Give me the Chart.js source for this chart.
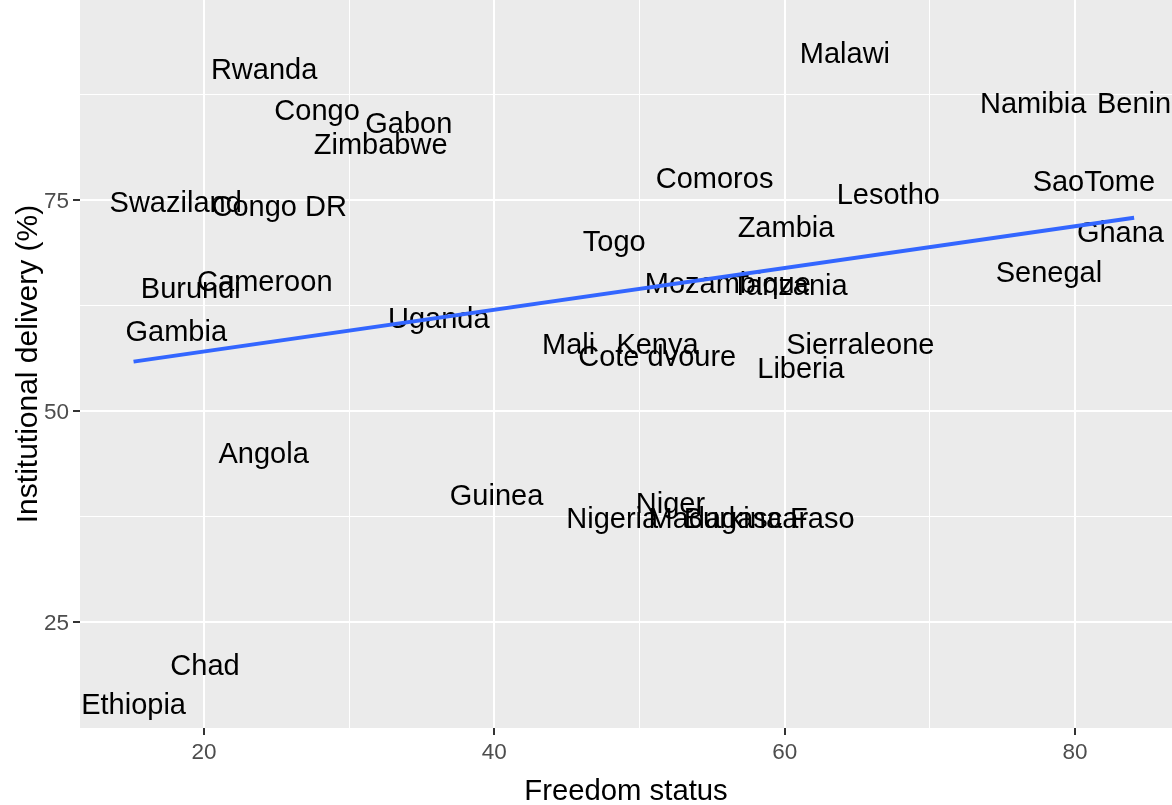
<!DOCTYPE html>
<html>
<head>
<meta charset="utf-8">
<title>Freedom status vs institutional delivery</title>
<script src="https://cdn.jsdelivr.net/npm/chart.js@4.4.1/dist/chart.umd.min.js"></script>
<style>
    html, body { margin: 0; padding: 0; background: #ffffff; }
    #wrap { width: 1172px; height: 805px; position: relative; }
</style>
</head>
<body>
<div id="wrap"><canvas id="scatterChart"></canvas></div>
<script>
// Данные: страны, индекс свободы и доля родов в учреждениях
const countries = ['Rwanda', 'Malawi', 'Congo', 'Gabon', 'Zimbabwe', 'Namibia', 'Benin', 'Comoros',
    'SaoTome', 'Lesotho', 'Swaziland', 'Congo DR', 'Zambia', 'Togo', 'Ghana', 'Senegal',
    'Burundi', 'Cameroon', 'Mozambique', 'Tanzania', 'Gambia', 'Uganda', 'Mali', 'Kenya',
    'Cote dvoure', 'Sierraleone', 'Liberia', 'Angola', 'Guinea', 'Niger', 'Nigeria',
    'Madagascar', 'Burkina Faso', 'Chad', 'Ethiopia'];
const freedom = [24.14, 64.15, 27.79, 34.11, 32.17, 77.12, 84.07, 55.17,
    81.3, 67.14, 18.05, 25.18, 60.09, 48.26, 83.13, 78.2,
    19.09, 24.19, 56.08, 60.34, 18.09, 36.17, 45.12, 51.24,
    51.22, 65.21, 61.11, 24.11, 40.15, 52.13, 48.12,
    56.12, 58.93, 20.07, 15.15];
const delivery = [90.49, 92.38, 85.66, 84.16, 81.6, 86.46, 86.46, 77.64,
    77.29, 75.71, 74.76, 74.35, 71.77, 70.14, 71.24, 66.5,
    64.54, 65.38, 65.22, 64.93, 59.45, 61.02, 57.94, 57.94,
    56.52, 57.94, 55.12, 45.06, 40.05, 39.06, 37.38,
    37.3, 37.3, 19.85, 15.32];

// Линия тренда (концы)
const fitX = [15.15, 84.07];
const fitY = [55.85, 72.9];

// Деления осей
const xTicks = [20, 30, 40, 50, 60, 70, 80];
const yTicks = [25, 37.5, 50, 62.5, 75, 87.5];

const FONT = "'Liberation Sans', Arial, Helvetica, sans-serif";

// Серый фон области графика как в ggplot
const panelBackground = {
    id: 'panelBackground',
    beforeDraw(chart) {
        const a = chart.chartArea;
        const ctx = chart.ctx;
        ctx.save();
        ctx.fillStyle = '#ebebeb';
        ctx.fillRect(a.left, a.top, a.right - a.left, a.bottom - a.top);
        ctx.restore();
    }
};

// Подписи стран вместо точек
const countryLabels = {
    id: 'countryLabels',
    beforeDatasetsDraw(chart) {
        const ctx = chart.ctx;
        const xs = chart.scales.x;
        const ys = chart.scales.y;
        const a = chart.chartArea;
        ctx.save();
        ctx.beginPath();
        ctx.rect(a.left, a.top, a.right - a.left, a.bottom - a.top);
        ctx.clip();
        ctx.font = '29px ' + FONT;
        ctx.fillStyle = '#000000';
        ctx.textAlign = 'center';
        ctx.textBaseline = 'middle';
        countries.forEach(function(name, i) {
            ctx.fillText(name, xs.getPixelForValue(freedom[i]), ys.getPixelForValue(delivery[i]) + 2);
        });
        ctx.restore();
    }
};

function isMajor(value, step) {
    return Math.abs(value / step - Math.round(value / step)) < 1e-6;
}

document.addEventListener('DOMContentLoaded', function() {
    const ctx = document.getElementById('scatterChart');

    new Chart(ctx, {
        type: 'scatter',
        data: {
            datasets: [
                {
                    label: 'countries',
                    data: freedom.map((x, i) => ({ x: x, y: delivery[i] })),
                    pointRadius: 0,
                    pointHoverRadius: 0
                },
                {
                    type: 'line',
                    label: 'fit',
                    data: fitX.map((x, i) => ({ x: x, y: fitY[i] })),
                    borderColor: '#3366ff',
                    borderWidth: 4,
                    pointRadius: 0,
                    fill: false,
                    tension: 0
                }
            ]
        },
        options: {
            responsive: true,
            maintainAspectRatio: false,
            animation: false,
            layout: { padding: 0 },
            plugins: {
                legend: { display: false },
                tooltip: { enabled: false }
            },
            scales: {
                x: {
                    type: 'linear',
                    min: 11.46,
                    max: 86.68,
                    afterBuildTicks: function(scale) {
                        scale.ticks = xTicks.map(v => ({ value: v }));
                    },
                    afterFit: function(scale) {
                        scale.height = 77;
                        scale.paddingLeft = 0;
                        scale.paddingRight = 0;
                    },
                    border: { display: false },
                    grid: {
                        color: '#ffffff',
                        lineWidth: c => isMajor(c.tick.value, 20) ? 2 : 1,
                        tickColor: c => isMajor(c.tick.value, 20) ? '#333333' : 'rgba(0,0,0,0)',
                        tickWidth: 2,
                        tickLength: 7
                    },
                    ticks: {
                        autoSkip: false,
                        maxRotation: 0,
                        padding: 4,
                        color: '#4d4d4d',
                        font: { family: FONT, size: 22.5 },
                        callback: v => isMajor(v, 20) ? v : ''
                    },
                    title: {
                        display: true,
                        text: 'Freedom status',
                        color: '#000000',
                        font: { family: FONT, size: 29.3, lineHeight: 1 },
                        padding: { top: 0, bottom: -2 }
                    }
                },
                y: {
                    type: 'linear',
                    min: 12.44,
                    max: 98.7,
                    afterBuildTicks: function(scale) {
                        scale.ticks = yTicks.map(v => ({ value: v }));
                    },
                    afterFit: function(scale) {
                        scale.width = 80;
                        scale.paddingTop = 0;
                        scale.paddingBottom = 0;
                    },
                    border: { display: false },
                    grid: {
                        color: '#ffffff',
                        lineWidth: c => isMajor(c.tick.value, 25) ? 2 : 1,
                        tickColor: c => isMajor(c.tick.value, 25) ? '#333333' : 'rgba(0,0,0,0)',
                        tickWidth: 2,
                        tickLength: 7
                    },
                    ticks: {
                        autoSkip: false,
                        padding: 4,
                        labelOffset: 2,
                        color: '#4d4d4d',
                        font: { family: FONT, size: 22.5 },
                        callback: v => isMajor(v, 25) ? v : ''
                    },
                    title: {
                        display: true,
                        text: 'Institutional delivery (%)',
                        color: '#000000',
                        font: { family: FONT, size: 30, lineHeight: 1 },
                        padding: { top: 14, bottom: 0 }
                    }
                }
            }
        },
        plugins: [panelBackground, countryLabels]
    });
});
</script>
</body>
</html>
